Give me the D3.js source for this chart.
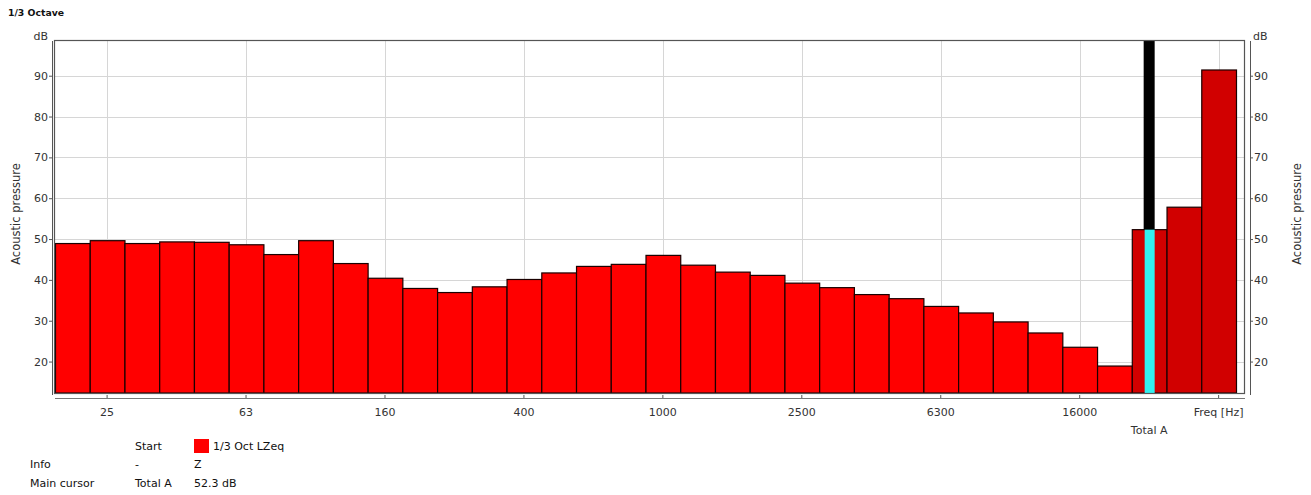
<!DOCTYPE html>
<html>
<head>
<meta charset="utf-8">
<script src="https://cdn.jsdelivr.net/npm/d3@7"></script>
<style>
  html, body { margin: 0; padding: 0; background: #fff; }
  svg { display: block; }
  text { font-family: "DejaVu Sans", Verdana, sans-serif; }
</style>
</head>
<body>
<svg id="chart" width="1311" height="495"></svg>
<script>
// 1/3-octave band centre frequencies followed by the overall totals
const bands = ["20","25","31.5","40","50","63","80","100","125","160","200","250","315",
  "400","500","630","800","1000","1250","1600","2000","2500","3150","4000","5000",
  "6300","8000","10000","12500","16000","20000"];
const totals = ["Total A", "Total C", "Total Z"];
const categories = bands.concat(totals);

// LZeq per band (dB)
const bandLevels = [48.9, 49.6, 48.9, 49.3, 49.2, 48.6, 46.2, 49.6, 44.0, 40.4, 37.9,
  36.9, 38.3, 40.1, 41.7, 43.3, 43.8, 46.0, 43.6, 41.9, 41.1, 39.2, 38.1, 36.4, 35.4,
  33.5, 31.9, 29.7, 27.0, 23.5, 18.9];
// overall levels (dB)
const totalLevels = [52.3, 57.8, 91.4];
const levels = bandLevels.concat(totalLevels);

const xTickValues = ["25","63","160","400","1000","2500","6300","16000"];
const yTickValues = [20, 30, 40, 50, 60, 70, 80, 90];
const cursorCategory = "Total A";
const cursorValue = 52.3;

const svg = d3.select("#chart");
const frame = { left: 55, right: 1245, top: 41, bottom: 393 };

const x = d3.scaleBand().domain(categories).range([55, 1236]).padding(0);
const y = d3.scaleLinear().domain([12.3, 98.5]).range([frame.bottom, frame.top]);

// title
svg.append("text").attr("x", 8).attr("y", 16)
  .attr("font-size", 9.3).attr("font-weight", "bold").attr("fill", "#111")
  .text("1/3 Octave");

// grid
const grid = svg.append("g").attr("stroke", "#d6d6d6").attr("stroke-width", 1);
grid.selectAll("line.h").data(yTickValues).join("line")
  .attr("x1", frame.left).attr("x2", frame.right)
  .attr("y1", d => Math.round(y(d)) + 0.5).attr("y2", d => Math.round(y(d)) + 0.5);
const vGrid = xTickValues.concat([categories[categories.length - 1]]);
grid.selectAll("line.v").data(vGrid).join("line")
  .attr("x1", d => Math.round(x(d) + x.bandwidth() / 2) + 0.5)
  .attr("x2", d => Math.round(x(d) + x.bandwidth() / 2) + 0.5)
  .attr("y1", frame.top).attr("y2", frame.bottom);

// bars
const data = categories.map((c, i) => ({ cat: c, v: levels[i], total: totals.includes(c) }));
svg.append("g").selectAll("rect").data(data).join("rect")
  .attr("x", d => x(d.cat) + 0.5)
  .attr("width", x.bandwidth())
  .attr("y", d => y(d.v))
  .attr("height", d => y.range()[0] - y(d.v))
  .attr("fill", d => d.total ? "#d10000" : "#ff0000")
  .attr("stroke", "#1a0000").attr("stroke-width", 1.2);

// main cursor
const cx = x(cursorCategory) + x.bandwidth() / 2;
const cw = 11;
svg.append("rect").attr("x", cx - cw / 2).attr("width", cw)
  .attr("y", frame.top).attr("height", y(cursorValue) - frame.top).attr("fill", "#000");
svg.append("rect").attr("x", cx - cw / 2 + 1).attr("width", cw - 1)
  .attr("y", y(cursorValue)).attr("height", frame.bottom - y(cursorValue)).attr("fill", "#33f0f0");

// plot frame
svg.append("rect").attr("x", frame.left - 0.5).attr("y", frame.top - 0.5)
  .attr("width", frame.right - frame.left).attr("height", frame.bottom - frame.top + 1)
  .attr("fill", "none").attr("stroke", "#555").attr("stroke-width", 1.2);

// left axis
const yLeft = svg.append("g").attr("transform", "translate(52,0)")
  .call(d3.axisLeft(y).tickValues(yTickValues).tickSize(3).tickSizeOuter(0).tickPadding(1));
yLeft.select(".domain").attr("stroke", "#555").attr("d", `M0.5,${frame.top}V${frame.bottom + 2}`);
yLeft.selectAll(".tick line").attr("stroke", "#555");
yLeft.selectAll(".tick text").attr("font-size", 11).attr("fill", "#333")
  .attr("font-family", "DejaVu Sans, sans-serif");

// right axis
const yRight = svg.append("g").attr("transform", "translate(1250,0)")
  .call(d3.axisRight(y).tickValues(yTickValues).tickSize(3).tickSizeOuter(0).tickPadding(1));
yRight.select(".domain").attr("stroke", "#555").attr("d", `M0.5,${frame.top}V${frame.bottom + 2}`);
yRight.selectAll(".tick line").attr("stroke", "#555");
yRight.selectAll(".tick text").attr("font-size", 11).attr("fill", "#333")
  .attr("font-family", "DejaVu Sans, sans-serif");

// unit labels
svg.append("text").attr("x", 48).attr("y", 40).attr("text-anchor", "end")
  .attr("font-size", 11).attr("fill", "#333").text("dB");
svg.append("text").attr("x", 1253).attr("y", 40)
  .attr("font-size", 11).attr("fill", "#333").text("dB");

// axis titles
svg.append("text").attr("transform", "translate(20,214) rotate(-90)")
  .attr("text-anchor", "middle").attr("font-size", 11.5).attr("fill", "#333")
  .text("Acoustic pressure");
svg.append("text").attr("transform", "translate(1301,214) rotate(-90)")
  .attr("text-anchor", "middle").attr("font-size", 11.5).attr("fill", "#333")
  .text("Acoustic pressure");

// bottom axis
const xAxisVals = xTickValues.concat([categories[categories.length - 1]]);
const xb = svg.append("g").attr("transform", "translate(0,398)")
  .call(d3.axisBottom(x).tickValues(xAxisVals).tickSize(-3).tickSizeOuter(0).tickPadding(10)
    .tickFormat(d => d === categories[categories.length - 1] ? "Freq [Hz]" : d));
xb.select(".domain").attr("stroke", "#777").attr("d", `M${frame.left},0.5H${frame.right}`);
xb.selectAll(".tick line").attr("stroke", "#555");
xb.selectAll(".tick text").attr("font-size", 11).attr("fill", "#333")
  .attr("font-family", "DejaVu Sans, sans-serif");

// cursor position label
svg.append("text").attr("x", cx).attr("y", 434).attr("text-anchor", "middle")
  .attr("font-size", 11).attr("fill", "#333").text(cursorCategory);

// legend / info table
const info = svg.append("g").attr("font-size", 11).attr("fill", "#111");
info.append("text").attr("x", 135).attr("y", 450).text("Start");
info.append("rect").attr("x", 194).attr("y", 439).attr("width", 15).attr("height", 14).attr("fill", "#ff0000");
info.append("text").attr("x", 213).attr("y", 450).text("1/3 Oct LZeq");
info.append("text").attr("x", 30).attr("y", 468).text("Info");
info.append("text").attr("x", 135).attr("y", 468).text("-");
info.append("text").attr("x", 194).attr("y", 468).text("Z");
info.append("text").attr("x", 30).attr("y", 487).text("Main cursor");
info.append("text").attr("x", 135).attr("y", 487).text(cursorCategory);
info.append("text").attr("x", 194).attr("y", 487).text(cursorValue.toFixed(1) + " dB");
</script>
</body>
</html>
